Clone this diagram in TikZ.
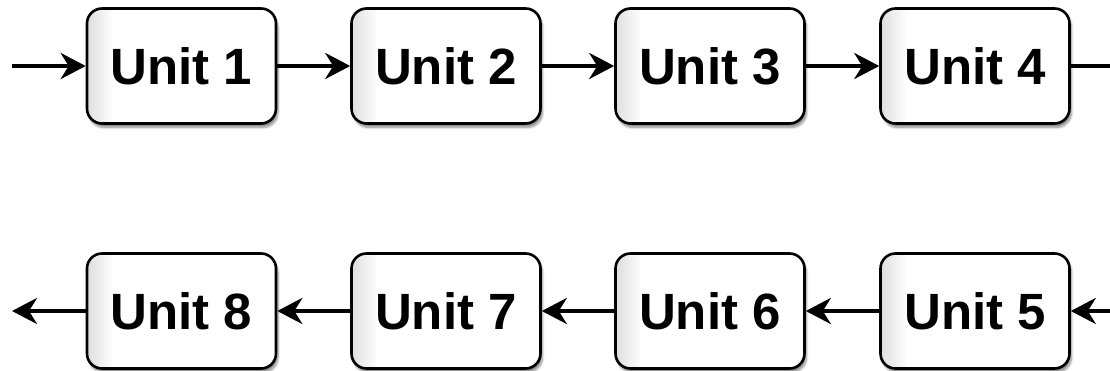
\documentclass[tikz,border=0pt]{standalone}
\usepackage{fontspec}
\setmainfont{Liberation Sans}
\usetikzlibrary{arrows.meta,shadows.blur}
% soft grey on the left edge, fading quickly to white
\pgfdeclarehorizontalshading{unitshade}{100bp}{color(0bp)=(black!13); color(25bp)=(black!13); color(32bp)=(white); color(100bp)=(white)}
\begin{document}
\begin{tikzpicture}[x=1pt,y=-1pt,
  unit/.style={draw=black, line width=2.6pt, rounded corners=15pt,
    minimum width=189pt, minimum height=115pt,
    shading=unitshade,
    blur shadow={shadow xshift=2pt, shadow yshift=-4pt, shadow blur steps=8, shadow opacity=45},
    font=\fontsize{51}{54}\selectfont\bfseries, inner sep=0pt},
  link/.style={line width=4pt, -{Stealth[length=25pt, width=26pt, inset=8pt]}},
  plain/.style={line width=4pt}]
\useasboundingbox (0,0) rectangle (1110,371);
% upper row, left to right
\node[unit] (u1) at (181.5,66) {Unit 1};
\node[unit] (u2) at (446,66) {Unit 2};
\node[unit] (u3) at (710,66) {Unit 3};
\node[unit] (u4) at (975,66) {Unit 4};
% lower row, right to left
\node[unit] (u5) at (975,311) {Unit 5};
\node[unit] (u6) at (710,311) {Unit 6};
\node[unit] (u7) at (446,311) {Unit 7};
\node[unit] (u8) at (181.5,311) {Unit 8};
\coordinate (in) at (12,66);
\coordinate (up) at (1111,66);
\coordinate (down) at (1111,311);
\coordinate (out) at (12,311);
\draw[link] (in) -- (u1);
\draw[link] (u1) -- (u2);
\draw[link] (u2) -- (u3);
\draw[link] (u3) -- (u4);
\draw[plain] (u4) -- (up);
\draw[link] (down) -- (u5);
\draw[link] (u5) -- (u6);
\draw[link] (u6) -- (u7);
\draw[link] (u7) -- (u8);
\draw[link] (u8) -- (out);
\end{tikzpicture}
\end{document}
